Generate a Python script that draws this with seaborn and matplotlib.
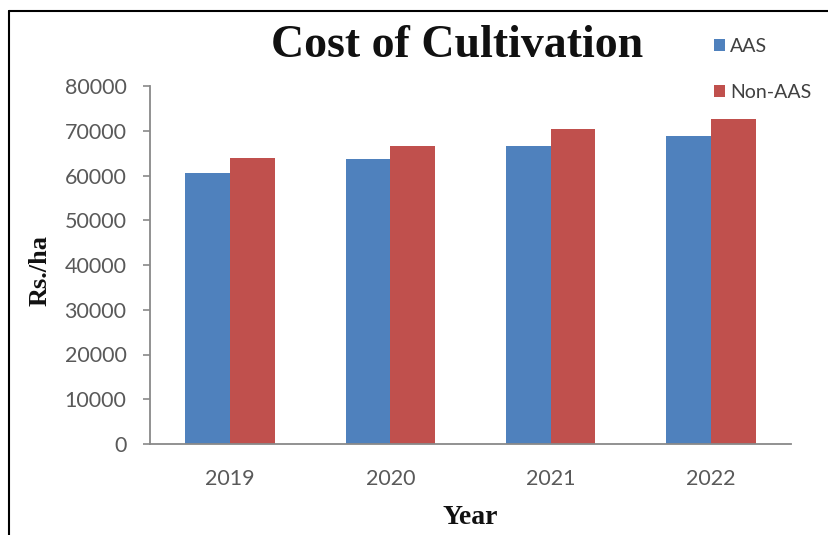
import matplotlib
matplotlib.use("Agg")
import matplotlib.pyplot as plt
from matplotlib.lines import Line2D
import seaborn as sns
import pandas as pd

years = ["2019", "2020", "2021", "2022"]
aas = [60500, 63600, 66600, 68900]
non_aas = [64000, 66700, 70400, 72600]
series_names = ["AAS", "Non-AAS"]
yticks = [0, 10000, 20000, 30000, 40000, 50000, 60000, 70000, 80000]

df = pd.DataFrame({
    "Year": years * 2,
    "Value": aas + non_aas,
    "Series": [series_names[0]] * len(years) + [series_names[1]] * len(years),
})

sns.set_theme(style="white")
plt.rcParams["font.family"] = ["Lato", "DejaVu Sans"]

W, H = 829, 535
fig = plt.figure(figsize=(W / 100, H / 100), dpi=100)
fig.patch.set_facecolor("white")
ax = fig.add_axes([150 / W, 1 - 444 / H, (791 - 150) / W, (444 - 86) / H])

palette = {"AAS": "#4F81BD", "Non-AAS": "#C0504D"}
sns.barplot(data=df, x="Year", y="Value", hue="Series", palette=palette,
            width=0.56, gap=0, saturation=1, ax=ax, edgecolor="none",
            legend=True)

ax.set_xlim(-0.5, 3.5)
ax.set_ylim(0, 80000)
ax.set_yticks(yticks)
ax.set_yticklabels([str(v) for v in yticks])

grey = "#898989"
for s in ["top", "right"]:
    ax.spines[s].set_visible(False)
for s in ["left", "bottom"]:
    ax.spines[s].set_color(grey)
    ax.spines[s].set_linewidth(1.3)

ax.tick_params(axis="y", left=True, length=5, width=1.2, color=grey, pad=12,
               labelsize=15.5, labelcolor="#595959")
ax.tick_params(axis="x", bottom=False, length=0, pad=18,
               labelsize=15.5, labelcolor="#595959")

ax.set_xlabel("")
ax.set_ylabel("")
fig.text(470 / W, 1 - 517 / H, "Year", ha="center", va="center",
         family="Liberation Serif", fontweight="bold", fontsize=20, color="#111111")
fig.text(40 / W, 1 - 271 / H, "Rs./ha", ha="center", va="center", rotation=90,
         family="Liberation Serif", fontweight="bold", fontsize=19, color="#111111")
fig.text(457 / W, 1 - 46 / H, "Cost of Cultivation", ha="center", va="center",
         family="Liberation Serif", fontweight="bold", fontsize=33, color="#111111")

handles, labels = ax.get_legend_handles_labels()
ax.legend(handles, labels, loc="upper left", bbox_to_anchor=(706 / W, 1 - 30 / H),
          bbox_transform=fig.transFigure, frameon=False, fontsize=14,
          handlelength=0.6, handleheight=0.6, handletextpad=0.25,
          labelspacing=1.5, labelcolor="#404040", borderaxespad=0)

fig.add_artist(Line2D([9 / W, 9 / W], [0, 1 - 11 / H], color="black", lw=1.5,
                      transform=fig.transFigure))
fig.add_artist(Line2D([9 / W, 1], [1 - 11 / H, 1 - 11 / H], color="black", lw=1.5,
                      transform=fig.transFigure))

fig.savefig("out.png", dpi=100, facecolor="white")
